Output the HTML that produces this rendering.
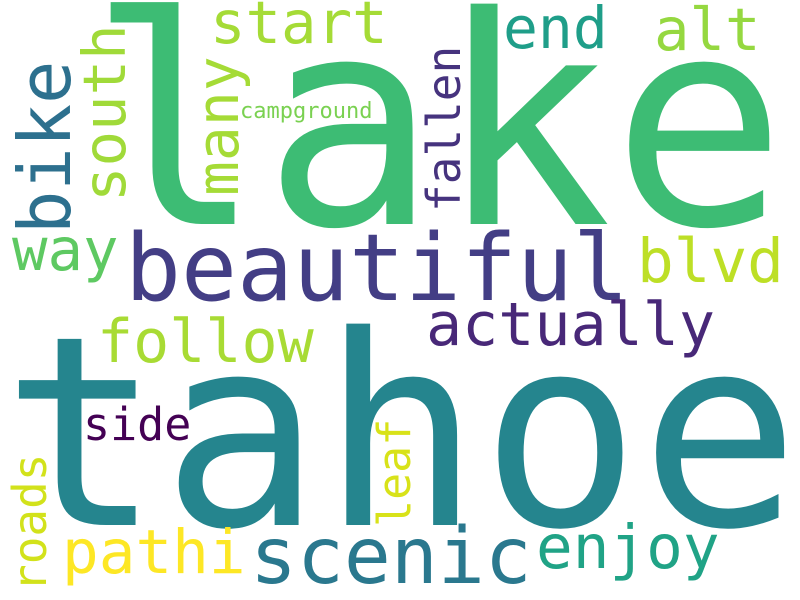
<!DOCTYPE html>
<html><head><meta charset="utf-8"><style>
html,body{margin:0;padding:0;background:#fff;}
svg{display:block;}
text{font-family:"DejaVu Sans Mono","Liberation Mono",monospace;}
</style></head><body>
<svg width="800" height="600" viewBox="0 0 800 600">
<rect width="800" height="600" fill="#fff"/>
<text x="88" y="224" font-size="290" fill="#3dbc74">lake</text>
<text x="2" y="525" font-size="265" fill="#25858e">tahoe</text>
<text x="125" y="300" font-size="93" fill="#433e85">beautiful</text>
<text transform="translate(70,234) rotate(-90)" font-size="72" fill="#2d708e">bike</text>
<text transform="translate(125,202) rotate(-90)" font-size="59" fill="#a0da39">south</text>
<text transform="translate(238,196) rotate(-90)" font-size="58" fill="#a5db36">many</text>
<text x="210" y="43" font-size="59" fill="#a5db36">start</text>
<text x="503" y="48" font-size="58" fill="#1f9e89">end</text>
<text x="654" y="50" font-size="59" fill="#95d840">alt</text>
<text x="240" y="118" font-size="22" fill="#7ad151">campground</text>
<text transform="translate(460,212) rotate(-90)" font-size="46" fill="#46337e">fallen</text>
<text x="12" y="270" font-size="59" fill="#5ec962">way</text>
<text x="637" y="282" font-size="61" fill="#bddf26">blvd</text>
<text x="97" y="362" font-size="60" fill="#a8db34">follow</text>
<text x="426" y="345" font-size="60" fill="#482878">actually</text>
<text x="83" y="440" font-size="45" fill="#440154">side</text>
<text transform="translate(410,527) rotate(-90)" font-size="45" fill="#d8e219">leaf</text>
<text transform="translate(46,592) rotate(-90)" font-size="46" fill="#d2e21b">roads</text>
<text x="62" y="573" font-size="61" fill="#fde725">pathi</text>
<text x="250" y="583" font-size="78" fill="#2a788e">scenic</text>
<text x="536" y="568" font-size="61" fill="#20a386">enjoy</text>
</svg>
</body></html>
